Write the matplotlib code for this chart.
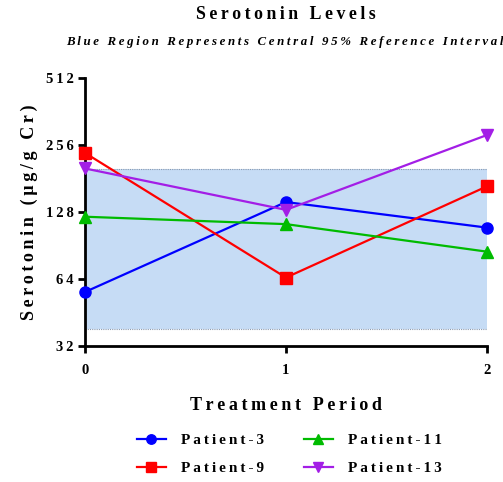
import matplotlib
matplotlib.use("Agg")
from matplotlib import pyplot as plt

# data
periods = [0, 1, 2]
patient_3 = [56, 142, 109]
patient_9 = [236, 65, 167]
patient_11 = [122, 113, 85]
patient_13 = [201, 131, 284]
ref_low, ref_high = 38, 199
y_ticks = [32, 64, 128, 256, 512]

SERIF = ["Liberation Serif", "DejaVu Serif"]


def spaced(text):
    # imitate the wide letter spacing of the original
    return "\u2009".join(text)


fig = plt.figure(figsize=(5.03, 4.82), dpi=100)
ax = fig.add_axes([0.169, 0.282, 0.799, 0.556])

ax.axhspan(ref_low, ref_high, facecolor="#c6dcf5", edgecolor="none", zorder=0)
ax.axhline(ref_low, color="#8a9ab0", lw=0.8, ls=(0, (1, 1)), zorder=1)
ax.axhline(ref_high, color="#8a9ab0", lw=0.8, ls=(0, (1, 1)), zorder=1)

series = [
    ("Patient-3", patient_3, "#0000ff", "o"),
    ("Patient-9", patient_9, "#ff0000", "s"),
    ("Patient-11", patient_11, "#00bb00", "^"),
    ("Patient-13", patient_13, "#a31ee6", "v"),
]
for name, vals, col, mk in series:
    ax.plot(periods, vals, color=col, marker=mk, lw=1.6, ms=8,
            label=spaced(name), clip_on=False, zorder=3)

ax.set_yscale("log", base=2)
ax.set_ylim(32, 512)
ax.set_xlim(0, 2)
ax.set_yticks(y_ticks)
ax.set_yticklabels([spaced(str(t)) for t in y_ticks])
ax.yaxis.set_minor_locator(matplotlib.ticker.NullLocator())
ax.set_xticks(periods)
ax.set_xticklabels([str(p) for p in periods])

for side in ["top", "right"]:
    ax.spines[side].set_visible(False)
for side in ["left", "bottom"]:
    ax.spines[side].set_linewidth(2)
ax.tick_params(width=2, length=5, labelsize=10.5, pad=3)
ax.tick_params(axis="x", pad=8)
for lbl in ax.get_xticklabels() + ax.get_yticklabels():
    lbl.set_fontfamily(SERIF)
    lbl.set_fontweight("bold")

ax.set_ylabel(spaced("Serotonin (µg/g Cr)"), family=SERIF, fontweight="bold",
              fontsize=13, labelpad=6)
ax.set_xlabel(spaced("Treatment Period"), family=SERIF, fontweight="bold",
              fontsize=13, labelpad=14)

fig.text(0.569, 0.969, spaced("Serotonin Levels"), ha="center", va="center",
         family=SERIF, fontweight="bold", fontsize=12.8)
fig.text(0.567, 0.913, spaced("Blue Region Represents Central 95% Reference Interval"),
         ha="center", va="center", family=SERIF, fontweight="bold",
         style="italic", fontsize=9.3)

leg = fig.legend(loc="center", bbox_to_anchor=(0.575, 0.057), ncol=2,
                 frameon=False, handlelength=1.9, handletextpad=1.0,
                 columnspacing=2.6, labelspacing=0.95, markerscale=0.85,
                 prop={"family": SERIF, "weight": "bold", "size": 11})

fig.savefig("out.png", dpi=100)
